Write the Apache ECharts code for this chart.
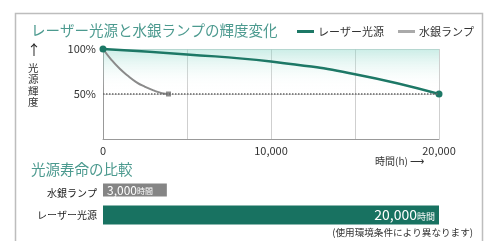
<!DOCTYPE html>
<html>
<head>
<meta charset="utf-8">
<script src="https://cdn.jsdelivr.net/npm/echarts@6/dist/echarts.min.js"></script>
<style>
  html, body { margin: 0; padding: 0; background: #fff; }
  #chart { width: 491px; height: 241px; }
</style>
</head>
<body>
<div id="chart"></div>
<script>
// 輝度変化 (時間h, 輝度%)
const laserPoints = [[0, 100], [5000, 94], [10000, 86], [15000, 72], [20000, 50]]
const mercuryPoints = [[0, 100], [500, 88], [1000, 78], [1500, 70], [2000, 63], [2500, 58], [3000, 54], [3500, 51], [3900, 50]]
const xTicks = [0, 10000, 20000]
const yTicks = [50, 100]

// 寿命の比較
const lampNames = ['水銀ランプ', 'レーザー光源']
// bar lengths as drawn in the reference: the mercury bar reaches ~3,800 on the
// 0-20,000 scale, although its printed label says 3,000
const lifeValues = [3800, 20000]
const lifeLabels = ['3,000', '20,000']

const TEAL = '#1d7866'
const GRAY = '#8a8a8a'
const FONT = '"Noto Sans CJK JP", sans-serif'

const chart = echarts.init(document.getElementById('chart'))

const endSymbol = (list) => (val, params) =>
  (params.dataIndex === 0 || params.dataIndex === list.length - 1) ? 7 : 0

const fmtNum = (v) => v.toLocaleString('en-US')

const option = {
  animation: false,
  textStyle: { fontFamily: FONT },
  title: [
    { text: 'レーザー光源と水銀ランプの輝度変化', left: 26, top: 18,
      textStyle: { fontSize: 14.5, fontWeight: 'normal', color: '#4c9a8f', fontFamily: FONT } },
    { text: '光源寿命の比較', left: 26, top: 157,
      textStyle: { fontSize: 14.5, fontWeight: 'normal', color: '#4c9a8f', fontFamily: FONT } },
  ],
  legend: {
    right: 12, top: 21, itemWidth: 17, itemHeight: 3, itemGap: 14, icon: 'rect',
    textStyle: { fontSize: 11, color: '#333', fontFamily: FONT, padding: [0, 0, 0, -1] },
    data: [
      { name: 'レーザー光源', itemStyle: { color: TEAL } },
      { name: '水銀ランプ', itemStyle: { color: '#aaa' } },
    ],
  },
  grid: [
    { left: 103, right: 52, top: 49, height: 90 },
    { left: 103, right: 52, top: 182, height: 44 },
  ],
  xAxis: [
    { type: 'value', gridIndex: 0, min: 0, max: 20000, interval: 5000,
      axisLine: { show: true, lineStyle: { color: '#999', width: 1 } },
      axisTick: { show: false },
      splitLine: { show: true, lineStyle: { color: '#cfcfcf', width: 1 } },
      axisLabel: { fontSize: 11, color: '#333', margin: 6,
        formatter: (v) => xTicks.includes(v) ? fmtNum(v) : '' } },
    { type: 'value', gridIndex: 1, min: 0, max: 20000, show: false },
  ],
  yAxis: [
    { type: 'value', gridIndex: 0, min: 0, max: 100, interval: 50,
      axisLine: { show: true, lineStyle: { color: '#999', width: 1 } },
      axisTick: { show: false },
      splitLine: { show: true, lineStyle: { color: '#d8d8d8', width: 1 } },
      axisLabel: { fontSize: 11, color: '#333', margin: 7,
        formatter: (v) => yTicks.includes(v) ? v + '%' : '' } },
    { type: 'category', gridIndex: 1, inverse: true, data: lampNames,
      axisLine: { show: false }, axisTick: { show: false },
      axisLabel: { fontSize: 10, color: '#222', margin: 6 } },
  ],
  graphic: [
    { type: 'rect', shape: { x: 15.5, y: 13.5, width: 467, height: 240 }, silent: true,
      style: { fill: 'none', stroke: '#bdbdbd', lineWidth: 1.5 } },
    { type: 'text', left: 27, top: 43,
      style: { text: '↑', fontSize: 14, fill: '#222', fontFamily: FONT } },
    { type: 'text', left: 28, top: 62,
      style: { text: '光\n源\n輝\n度', fontSize: 10.5, lineHeight: 11.5, fill: '#333', fontFamily: FONT } },
    { type: 'text', left: 375, top: 156,
      style: { text: '時間(h) ⟶', fontSize: 10, fill: '#333', fontFamily: FONT } },
    { type: 'text', right: 18, top: 228,
      style: { text: '(使用環境条件により異なります)', fontSize: 9.6, fill: '#333', fontFamily: FONT } },
  ],
  series: [
    { // 背景グラデーション
      type: 'line', xAxisIndex: 0, yAxisIndex: 0, silent: true, symbol: 'none',
      data: [[0, 100], [20000, 100]],
      lineStyle: { width: 0 },
      areaStyle: {
        color: new echarts.graphic.LinearGradient(0, 0, 0, 1, [
          { offset: 0, color: 'rgba(130,212,196,0.6)' },
          { offset: 0.45, color: 'rgba(255,255,255,0)' },
        ]),
      },
      markLine: {
        silent: true, symbol: 'none', label: { show: false },
        lineStyle: { color: '#666', type: 'dotted', width: 1.5 },
        data: [{ yAxis: 50 }],
      },
    },
    { name: '水銀ランプ', type: 'line', xAxisIndex: 0, yAxisIndex: 0, smooth: true,
      data: mercuryPoints, symbol: 'rect', symbolSize: (v, p) => p.dataIndex === mercuryPoints.length - 1 ? 5 : 0,
      lineStyle: { color: GRAY, width: 2 }, itemStyle: { color: GRAY } },
    { name: 'レーザー光源', type: 'line', xAxisIndex: 0, yAxisIndex: 0, smooth: true,
      data: laserPoints, symbol: 'circle', symbolSize: endSymbol(laserPoints),
      lineStyle: { color: TEAL, width: 2.5 }, itemStyle: { color: TEAL } },
    { type: 'bar', xAxisIndex: 1, yAxisIndex: 1, barWidth: 13, barGap: '-100%',
      data: [lifeValues[0], null], itemStyle: { color: '#858585' },
      label: { show: true, position: 'insideLeft', distance: 4,
        formatter: (p) => `{n|${lifeLabels[p.dataIndex]}}{u|時間}`,
        rich: { n: { fontSize: 12, color: '#fff', fontFamily: FONT },
                u: { fontSize: 8, color: '#fff', fontFamily: FONT, padding: [2, 0, 0, 0] } } } },
    { type: 'bar', xAxisIndex: 1, yAxisIndex: 1, barWidth: 19, barGap: '-100%',
      data: [null, lifeValues[1]], itemStyle: { color: '#187261' },
      label: { show: true, position: 'insideRight', distance: 4,
        formatter: (p) => `{n|${lifeLabels[p.dataIndex]}}{u|時間}`,
        rich: { n: { fontSize: 14, color: '#fff', fontFamily: FONT },
                u: { fontSize: 9, color: '#fff', fontFamily: FONT, padding: [3, 0, 0, 0] } } } },
  ],
}

chart.setOption(option)
window.addEventListener('resize', () => {
  chart.resize()
})
</script>
</body>
</html>
